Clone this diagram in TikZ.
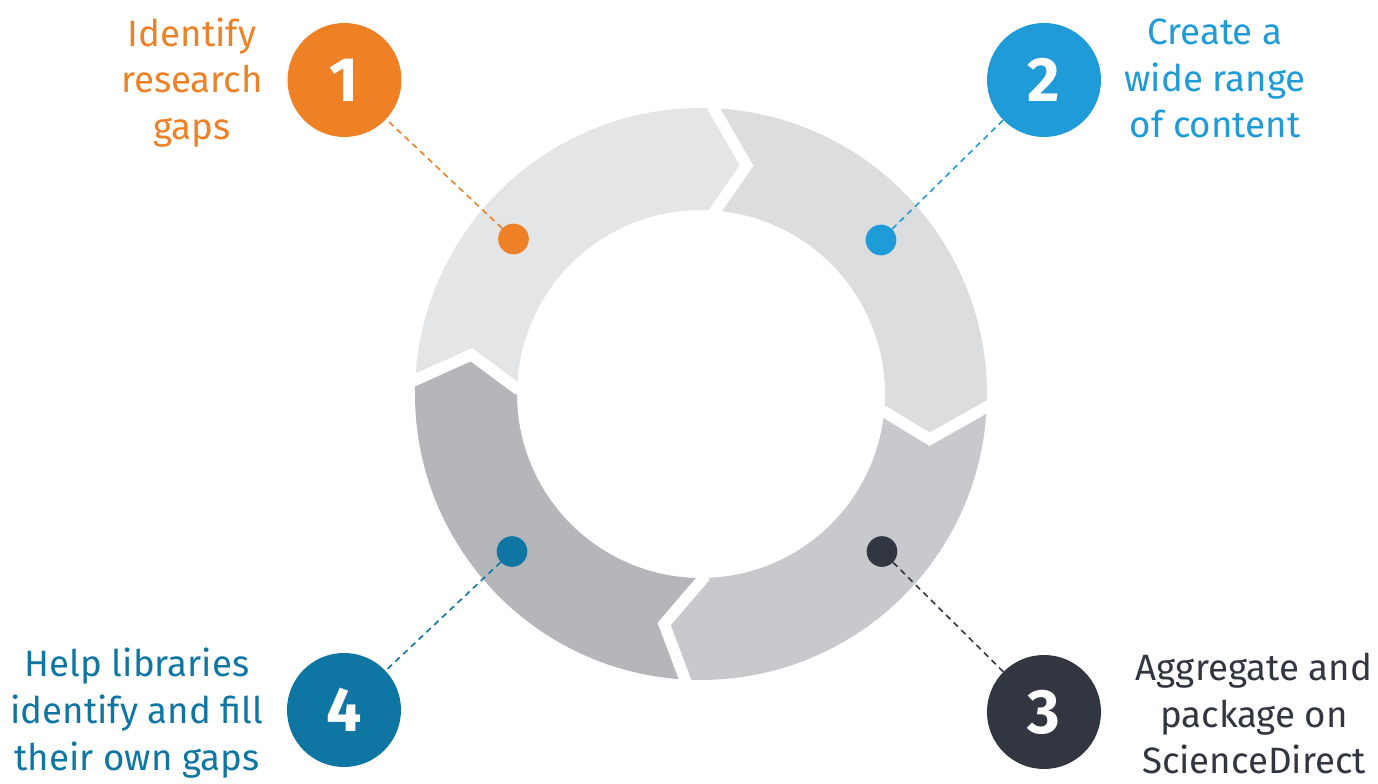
\documentclass[tikz,border=0pt]{standalone}
\usepackage{fontspec}
\setmainfont{Fira Sans}
\definecolor{orangeA}{HTML}{EE8126}
\definecolor{blueA}{HTML}{1F9BD7}
\definecolor{darkA}{HTML}{323641}
\definecolor{tealA}{HTML}{0F76A4}
\definecolor{segA}{HTML}{E4E5E6}
\definecolor{segB}{HTML}{DCDDDF}
\definecolor{segC}{HTML}{C7C9CC}
\definecolor{segD}{HTML}{B5B6BA}
\begin{document}
\begin{tikzpicture}[x=0.75pt,y=0.75pt]
    \tikzstyle{numdot}=[circle,minimum size=85.5pt,inner sep=0pt,text=white,font=\fontsize{47}{47}\selectfont\bfseries]
    \tikzstyle{spot}=[circle,minimum size=23pt,inner sep=0pt]
    \tikzstyle{blurb}=[align=center,inner sep=0pt,font=\fontsize{27.5}{35}\selectfont]
    \tikzstyle{gap}=[draw=white,line width=8.6pt,miter limit=20]
    \tikzstyle{link}=[line width=1.2pt,dash pattern=on 4.5pt off 3.5pt]
    \useasboundingbox (-701,-390) rectangle (677,394);
    % ring
    \fill[segA] (177.2:286) arc[start angle=177.2,end angle=87.5,radius=286] -- (78.7:233) -- (85.5:184)
      arc[start angle=85.5,end angle=178.3,radius=184] -- (170.3:233) -- cycle;
    \fill[segB] (87.5:286) arc[start angle=87.5,end angle=-2.6,radius=286] -- (-11.2:233) -- (-5.5:184)
      arc[start angle=-5.5,end angle=85.5,radius=184] -- (78.7:233) -- cycle;
    \fill[segC] (-2.6:286) arc[start angle=-2.6,end angle=-93.2,radius=286] -- (-99.1:233) -- (-89.2:184)
      arc[start angle=-89.2,end angle=-5.5,radius=184] -- (-11.2:233) -- cycle;
    \fill[segD] (-93.2:286) arc[start angle=-93.2,end angle=-182.8,radius=286] -- (170.3:233) -- (178.3:184)
      arc[start angle=-181.7,end angle=-89.2,radius=184] -- (-99.1:233) -- cycle;
    \draw[gap] (87.5:300) -- (87.5:286) -- (78.7:233) -- (85.5:184) -- (85.5:170);
    \draw[gap] (-2.6:300) -- (-2.6:286) -- (-11.2:233) -- (-5.5:184) -- (-5.5:170);
    \draw[gap] (-93.2:300) -- (-93.2:286) -- (-99.1:233) -- (-89.2:184) -- (-89.2:170);
    \draw[gap] (177.2:300) -- (177.2:286) -- (170.3:233) -- (178.3:184) -- (178.3:170);
    % numbers
    \node[numdot,fill=orangeA] (n1) at (-356.5,314){1};
    \node[numdot,fill=blueA] (n2) at (343,314){2};
    \node[numdot,fill=darkA] (n3) at (343,-318){3};
    \node[numdot,fill=tealA] (n4) at (-357,-316){4};
    \node[spot,fill=orangeA] (d1) at (-187.5,155){};
    \node[spot,fill=blueA] (d2) at (180,154){};
    \node[spot,fill=darkA] (d3) at (181,-157.5){};
    \node[spot,fill=tealA] (d4) at (-189,-157.5){};
    \draw[link,orangeA] (d1) -- (n1);
    \draw[link,blueA] (d2) -- (n2);
    \draw[link,darkA] (d3) -- (n3);
    \draw[link,tealA] (d4) -- (n4);
    % texts
    \node[blurb,text=orangeA] (t1) at (-509,311.5){Identify\\research\\gaps};
    \node[blurb,text=blueA] (t2) at (514,315.5){Create a\\wide range\\of content};
    \node[blurb,text=darkA] (t3) at (553,-319.5){Aggregate and\\package on\\ScienceDirect};
    \node[blurb,text=tealA] (t4) at (-564,-319){Help libraries\\identify and fill\\their own gaps};
    %\draw (0,0) circle (235);
\end{tikzpicture}
\end{document}
